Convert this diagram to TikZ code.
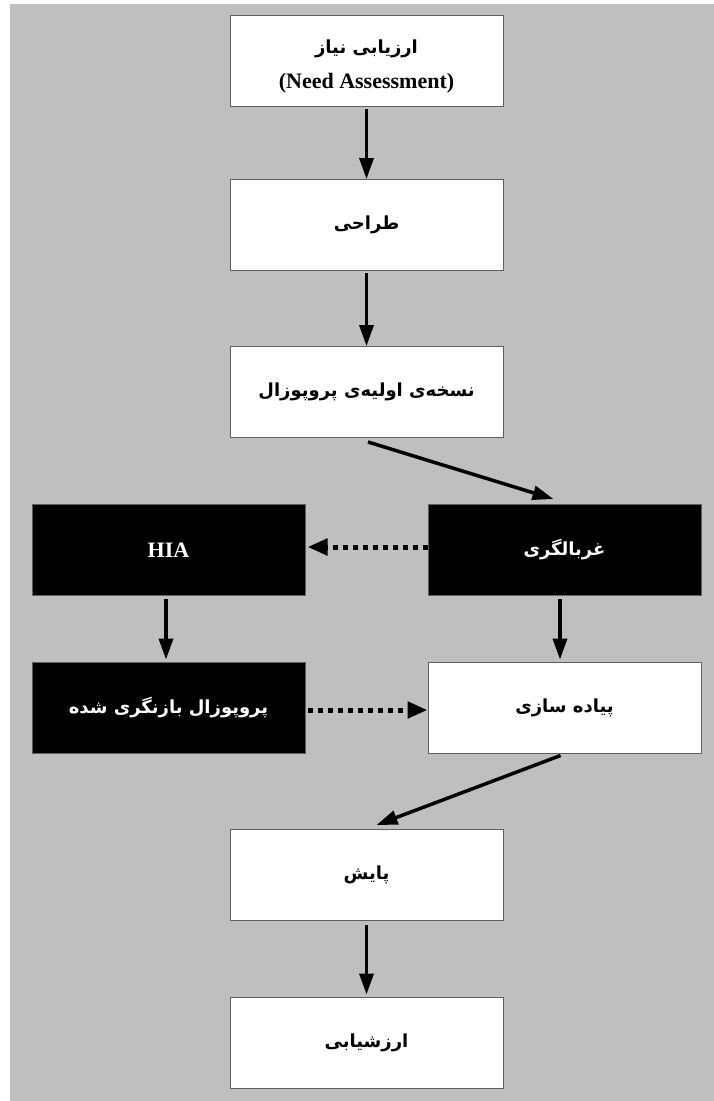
\documentclass[tikz,border=0pt]{standalone}
\usepackage{fontspec}
\setmainfont{Liberation Serif}
\newfontfamily\farsi[Script=Arabic]{DejaVu Sans}
\TeXXeTstate=1
\usetikzlibrary{arrows.meta}
\definecolor{canvas}{RGB}{191,191,191}
\definecolor{frame}{RGB}{95,95,95}

\begin{document}
\begin{tikzpicture}[x=1pt,y=-1pt,
  box/.style={draw=frame, line width=1pt, minimum width=273pt, minimum height=91pt,
    inner sep=0pt, align=center, font=\farsi\bfseries\fontsize{18}{22}\selectfont},
  whitebox/.style={box, fill=white, text=black},
  blackbox/.style={box, fill=black, text=white},
  flow/.style={line width=3.5pt, -{Triangle[length=21pt,width=14pt]}},
  dotflow/.style={line width=5pt, dash pattern=on 5pt off 5pt,
    -{Triangle[length=20pt,width=16pt]}}]

% page and grey canvas
\fill[white] (0,0) rectangle (714,1101);
\fill[canvas] (10,4) rectangle (714,1101);
\useasboundingbox (0,0) rectangle (714,1101);

% process steps
\node[whitebox] (need) at (366.5,61)
  {\rule{0pt}{24pt}\beginR ارزیابی نیاز\endR\\[13pt]{\rmfamily\fontsize{22}{24}\selectfont (Need Assessment)}};
\node[whitebox] (design)  at (366.5,225) {\beginR طراحی\endR};
\node[whitebox] (draft)   at (366.5,392) {\beginR نسخه‌ی اولیه‌ی پروپوزال\endR};
\node[blackbox] (screen)  at (564.5,550) {\beginR غربالگری\endR};
\node[blackbox] (hia)     at (168.5,550) {{\rmfamily\fontsize{22}{24}\selectfont HIA}};
\node[blackbox] (revised) at (168.5,707.5) {\beginR پروپوزال بازنگری شده\endR};
\node[whitebox] (impl)    at (564.5,707.5) {\beginR پیاده سازی\endR};
\node[whitebox] (monitor) at (366.5,875) {\beginR پایش\endR};
\node[whitebox] (evalu)   at (366.5,1042.5) {\beginR ارزشیابی\endR};

% connectors
\draw[flow] ([yshift=-2pt]need.south) -- (design.north);
\draw[flow] ([yshift=-2pt]design.south) -- (draft.north);
\draw[flow] ([xshift=1.5pt,yshift=-4pt]draft.south) -- ([xshift=-11pt,yshift=5pt]screen.north);
\draw[dotflow] ([yshift=3pt]screen.west) -- ([xshift=2pt,yshift=3pt]hia.east);
\draw[flow] ([xshift=-2.5pt,yshift=-3pt]hia.south) -- ([xshift=-2.5pt,yshift=2pt]revised.north);
\draw[flow] ([xshift=-4.5pt,yshift=-3pt]screen.south) -- ([xshift=-4.5pt,yshift=2pt]impl.north);
\draw[dotflow] ([xshift=2pt,yshift=-2.5pt]revised.east) -- ([yshift=-2.5pt]impl.west);
\draw[flow] ([xshift=-4pt,yshift=-2pt]impl.south) -- ([xshift=10pt,yshift=4pt]monitor.north);
\draw[flow] ([yshift=-4pt]monitor.south) -- ([yshift=2pt]evalu.north);
\end{tikzpicture}
\end{document}
